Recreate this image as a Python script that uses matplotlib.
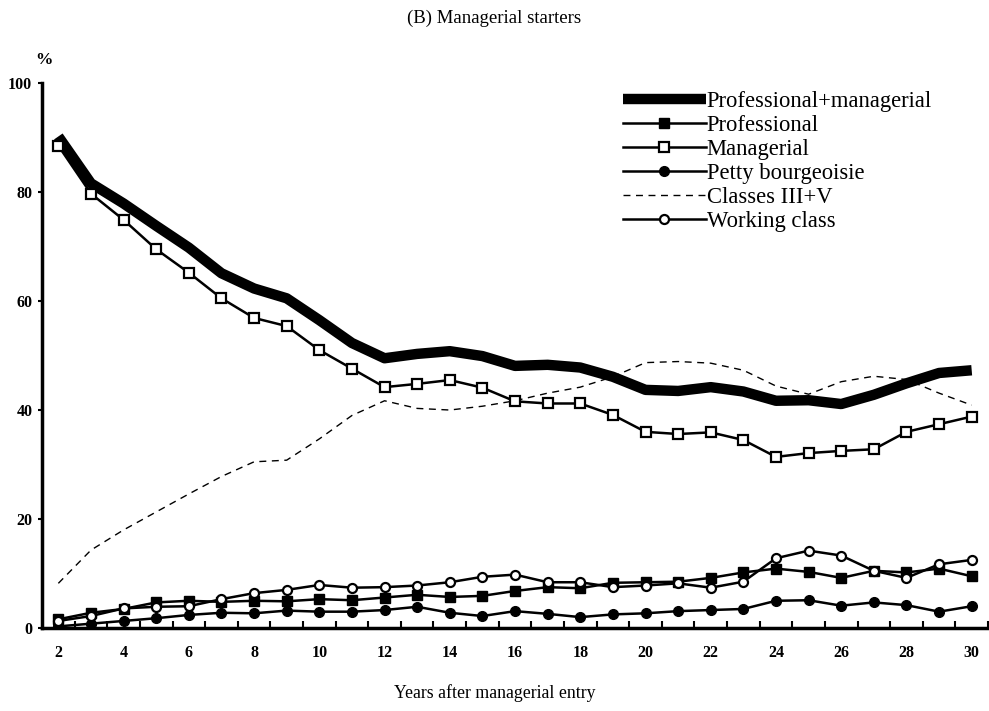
import matplotlib
matplotlib.use("Agg")
import matplotlib.pyplot as plt
from matplotlib.ticker import FixedLocator

years = list(range(2, 31))
prof_man = [90.2, 81.6, 77.9, 73.8, 69.8, 65.1, 62.3, 60.5, 56.5, 52.3, 49.5, 50.3, 50.8, 49.9,
            48.1, 48.3, 47.8, 46.1, 43.7, 43.5, 44.2, 43.4, 41.7, 41.8, 41.1, 42.8, 44.9, 46.8, 47.3]
professional = [1.6, 2.8, 3.5, 4.7, 5.0, 4.8, 5.0, 4.9, 5.3, 5.1, 5.6, 6.1, 5.7, 5.9,
                6.8, 7.5, 7.3, 8.3, 8.4, 8.5, 9.2, 10.2, 10.9, 10.3, 9.2, 10.5, 10.2, 10.9, 9.5]
managerial = [88.5, 79.7, 74.9, 69.5, 65.2, 60.5, 56.9, 55.4, 51.0, 47.6, 44.2, 44.8, 45.5, 44.1,
              41.6, 41.2, 41.2, 39.1, 36.0, 35.6, 35.9, 34.5, 31.4, 32.1, 32.5, 32.8, 36.0, 37.4, 38.8]
petty = [0.3, 0.8, 1.3, 1.8, 2.4, 2.8, 2.7, 3.2, 3.0, 3.0, 3.3, 3.9, 2.8, 2.2,
         3.1, 2.6, 2.0, 2.5, 2.7, 3.1, 3.3, 3.5, 5.0, 5.1, 4.1, 4.7, 4.2, 3.0, 4.0]
classes35 = [8.2, 14.3, 18.0, 21.3, 24.6, 27.8, 30.5, 30.8, 34.7, 39.0, 41.7, 40.3, 40.0, 40.7,
             41.7, 43.1, 44.2, 46.1, 48.7, 48.9, 48.6, 47.3, 44.4, 42.9, 45.2, 46.2, 45.6, 43.1, 40.9]
working = [1.3, 2.2, 3.6, 3.9, 4.0, 5.3, 6.4, 7.0, 7.9, 7.4, 7.5, 7.8, 8.4, 9.4,
           9.8, 8.4, 8.4, 7.5, 7.8, 8.2, 7.4, 8.5, 12.8, 14.2, 13.3, 10.5, 9.2, 11.7, 12.5]

xtick_labels = [str(v) for v in range(2, 31, 2)]
ytick_vals = [0, 20, 40, 60, 80, 100]

plt.rcParams['font.family'] = ['Liberation Serif', 'DejaVu Serif']

fig = plt.figure(figsize=(9.89, 7.11), dpi=100)
ax = fig.add_axes([0.0425, 0.1167, 0.9565, 0.7665])

ax.plot(years, classes35, color='black', lw=1.0, dashes=(5, 4), label='Classes III+V', zorder=2)
ax.plot(years, prof_man, color='black', lw=7.5, solid_capstyle='butt', solid_joinstyle='round',
        label='Professional+managerial', zorder=3)
ax.plot(years, professional, color='black', lw=1.8, marker='s', ms=6.5, mfc='black', mec='black',
        label='Professional', zorder=4)
ax.plot(years, managerial, color='black', lw=1.8, marker='s', ms=6.5, mfc='white', mec='black', mew=1.6,
        label='Managerial', zorder=5)
ax.plot(years, petty, color='black', lw=1.8, marker='o', ms=7, mfc='black', mec='black',
        label='Petty bourgeoisie', zorder=4)
ax.plot(years, working, color='black', lw=1.8, marker='o', ms=6.5, mfc='white', mec='black', mew=1.6,
        label='Working class', zorder=5)

ax.set_xlim(1.5, 30.5)
ax.set_ylim(0, 100)
for s in ['top', 'right']:
    ax.spines[s].set_visible(False)
ax.spines['left'].set_linewidth(2.5)
ax.spines['bottom'].set_linewidth(2.5)

ax.xaxis.set_major_locator(FixedLocator(list(range(2, 31, 2))))
ax.set_xticklabels(xtick_labels)
ax.xaxis.set_minor_locator(FixedLocator([v + 0.5 for v in range(2, 31)]))
ax.tick_params(axis='x', which='major', length=0, pad=12, labelsize=11.5)
ax.tick_params(axis='x', which='minor', direction='in', length=5, width=1.5)
ax.set_yticks(ytick_vals)
ax.tick_params(axis='y', which='major', direction='out', length=3, width=1.5, pad=4, labelsize=11.5)
for lab in ax.get_xticklabels() + ax.get_yticklabels():
    lab.set_fontweight('bold')

fig.text(0.5, 1 - 18 / 711, '(B) Managerial starters', ha='center', va='center', fontsize=13.5)
fig.text(0.5, 1 - 693 / 711, 'Years after managerial entry', ha='center', va='center', fontsize=12.8)
fig.text(44 / 989, 1 - 60 / 711, '%', ha='center', va='center', fontsize=12.5, fontweight='bold')

handles, labels = ax.get_legend_handles_labels()
order = ['Professional+managerial', 'Professional', 'Managerial', 'Petty bourgeoisie',
         'Classes III+V', 'Working class']
hmap = dict(zip(labels, handles))
fig.legend([hmap[k] for k in order], order, loc='upper left',
           bbox_to_anchor=(623 / 989, 1 - 91 / 711), frameon=False, fontsize=16.3,
           handlelength=3.65, handletextpad=0.05, labelspacing=0.13, borderpad=0,
           borderaxespad=0, numpoints=1)

fig.savefig('out.png', dpi=100, facecolor='white')
